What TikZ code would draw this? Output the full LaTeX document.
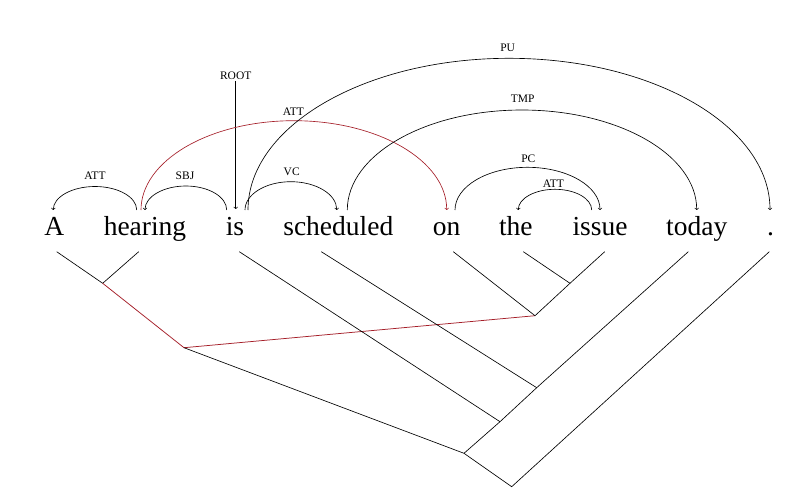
\documentclass[tikz,border=0pt]{standalone}
\usepackage{fontspec}
\setmainfont{Liberation Serif}
\definecolor{arcred}{RGB}{165,30,40}
\begin{document}
\begin{tikzpicture}[x=1pt,y=-1pt,
  word/.style={anchor=base,inner sep=0pt,font=\fontsize{27.5}{30}\selectfont},
  lab/.style={font=\fontsize{11.5}{13}\selectfont,inner sep=1pt},
  arc/.style={->,line width=0.65pt},
  tree/.style={line width=0.65pt},
  redtree/.style={line width=0.75pt,draw=arcred}]
\useasboundingbox[fill=white] (0,0) rectangle (788,498);
% words
\node[word] (A) at (54.2,235) {A};
\node[word] (hearing) at (145,235) {hearing};
\node[word] (is) at (235,235) {is};
\node[word] (scheduled) at (338.3,235) {scheduled};
\node[word] (on) at (446.7,235) {on};
\node[word] (the) at (515.8,235) {the};
\node[word] (issue) at (600,235) {issue};
\node[word] (today) at (696.7,235) {today};
\node[word] (dot) at (770.5,235) {.};
% arc start points
\coordinate (hA) at (136.7,210);
\coordinate (hR) at (141,210);
\coordinate (iS) at (226.7,210);
\coordinate (iR) at (235.7,209);
\coordinate (iV) at (245,210);
\coordinate (iP) at (248,210);
\coordinate (sT) at (347.3,210);
\coordinate (oP) at (455,210);
\coordinate (uA) at (591.7,210);
% labels
\node[lab] (root) at (235.7,75.7) {ROOT};
\node[lab] (l1) at (95,176) {ATT};
\node[lab] (l2) at (185,176) {SBJ};
\node[lab] (l3) at (291.7,172) {VC};
\node[lab] (l4) at (293.3,111.7) {ATT};
\node[lab] (l5) at (507.7,47.3) {PU};
\node[lab] (l6) at (522.7,99) {TMP};
\node[lab] (l7) at (528.3,158.3) {PC};
\node[lab] (l8) at (553.3,183.3) {ATT};
% arcs
\draw[arc] (hA) arc[start angle=0,end angle=-180,x radius=41.7,y radius=23.5];
\draw[arc] (iS) arc[start angle=0,end angle=-180,x radius=40.85,y radius=24];
\draw[arc] (root) -- (iR);
\draw[arc] (iV) arc[start angle=180,end angle=360,x radius=45.85,y radius=28.3];
\draw[arc,arcred] (hR) arc[start angle=180,end angle=360,x radius=152.85,y radius=89.3];
\draw[arc] (iP) arc[start angle=180,end angle=360,x radius=261,y radius=151.7];
\draw[arc] (sT) arc[start angle=180,end angle=360,x radius=174.7,y radius=100];
\draw[arc] (oP) arc[start angle=180,end angle=360,x radius=72.5,y radius=42.7];
\draw[arc] (uA) arc[start angle=0,end angle=-180,x radius=36.7,y radius=20.7];
% tree
\coordinate (tAw) at (56.7,251.7);
\coordinate (thw) at (138.7,251.7);
\coordinate (tiw) at (239.3,251.7);
\coordinate (tsw) at (321.3,251.7);
\coordinate (tow) at (453.3,251.7);
\coordinate (ttw) at (523.3,251.7);
\coordinate (tuw) at (604.7,251.7);
\coordinate (tyw) at (688.3,251.7);
\coordinate (tdw) at (769.3,251.7);
\coordinate (j1) at (102.7,283.3);
\coordinate (j2) at (184,347.7);
\coordinate (j3) at (570,283.3);
\coordinate (j4) at (535,315.7);
\coordinate (j5) at (536.7,387.7);
\coordinate (j6) at (500,421.7);
\coordinate (j7) at (464,453.3);
\coordinate (j8) at (511.7,486.7);
\draw[tree] (tAw) -- (j1) -- (thw);
\draw[redtree] (j1) -- (j2) -- (j4);
\draw[tree] (tow) -- (j4) -- (j3);
\draw[tree] (ttw) -- (j3) -- (tuw);
\draw[tree] (tiw) -- (j6);
\draw[tree] (tsw) -- (j5);
\draw[tree] (tyw) -- (j5) -- (j6) -- (j7);
\draw[tree] (j2) -- (j7) -- (j8) -- (tdw);
\end{tikzpicture}
\end{document}
